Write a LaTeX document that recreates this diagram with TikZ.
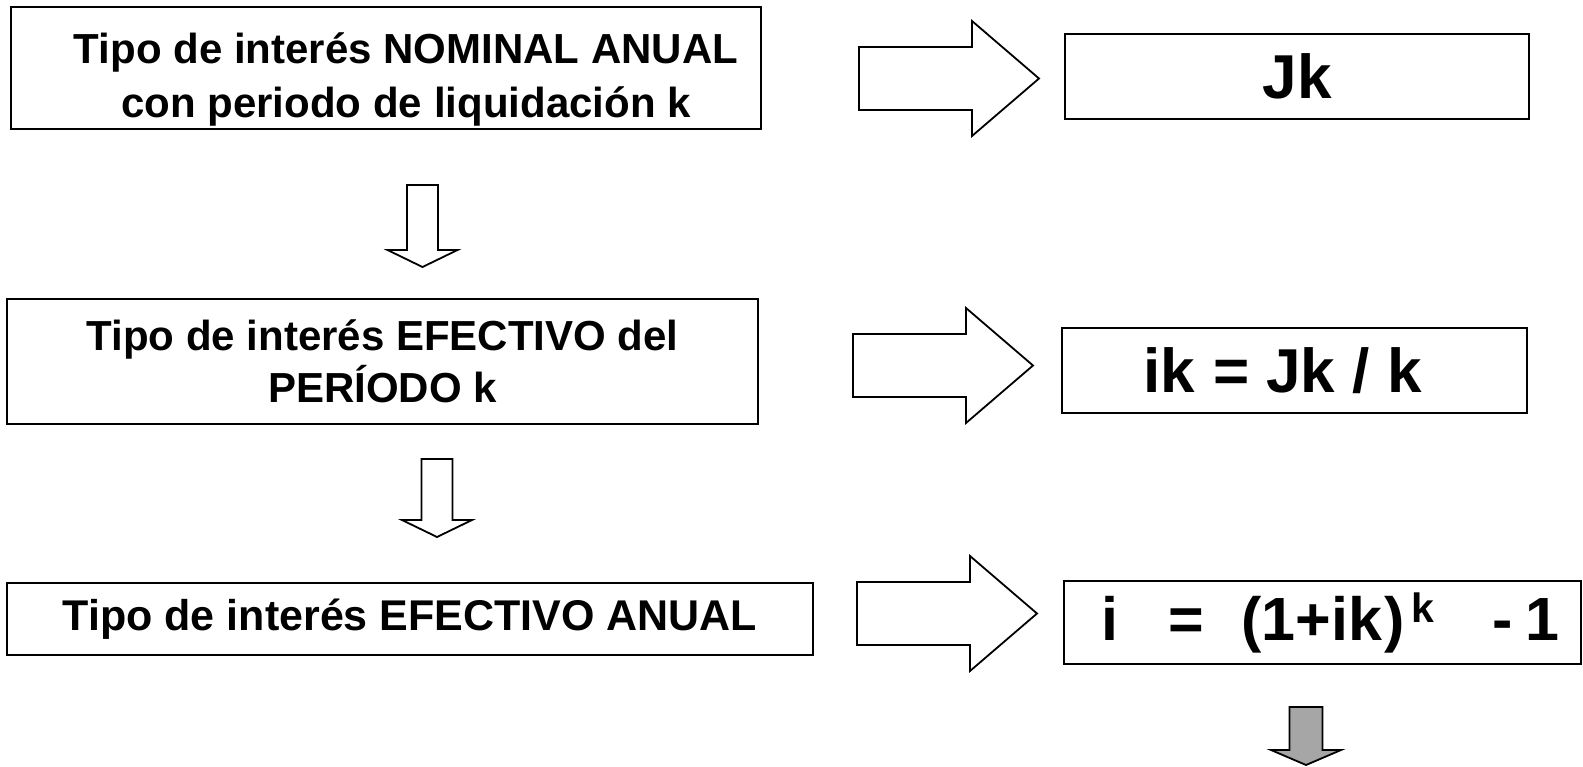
\documentclass[tikz,border=0pt]{standalone}
\usepackage{fontspec}
\setmainfont{Liberation Sans}
\definecolor{arrowgray}{RGB}{166,166,166}

\begin{document}
\begin{tikzpicture}[x=0.5pt, y=-0.5pt,
		box/.style={draw, line width=1pt, inner sep=0pt, align=center, font=\bfseries\fontsize{21}{27}\selectfont},
		arr/.style={draw, line width=0.9pt, line join=miter, fill=white}]
		\useasboundingbox (0,0) rectangle (1583,766);

		\node[box, minimum width=375pt, minimum height=61pt] (nominal) at (386,68) {\rule{0pt}{27pt}\hspace*{20pt}Tipo de interés NOMINAL ANUAL\\\hspace*{20pt}con periodo de liquidación k};
		\node[box, minimum width=232pt, minimum height=42.5pt, font=\bfseries\fontsize{31}{32}\selectfont] (jk) at (1297,76.5) {Jk};
		\node[box, minimum width=375.5pt, minimum height=62.5pt, font=\bfseries\fontsize{21}{26}\selectfont] (periodo) at (382.5,361.5) {Tipo de interés EFECTIVO del\\PERÍODO k};
		\node[box, minimum width=232.5pt, minimum height=42.5pt, font=\bfseries\fontsize{31}{32}\selectfont] (ik) at (1294.5,370.5) {ik\hspace{9pt}= Jk / k\hspace{12pt}};
		\node[box, minimum width=403pt, minimum height=36pt, font=\bfseries\fontsize{21.5}{27}\selectfont] (anual) at (410,619) {Tipo de interés EFECTIVO ANUAL};
		\node[box, minimum width=258.5pt, minimum height=41.5pt, font=\bfseries\fontsize{30.5}{32}\selectfont] (formula) at (1322.5,622.5) {\hspace*{8pt}i\hspace{25pt}=\hspace{18.5pt}(1+ik\hspace{1.5pt})\hspace{3pt}\raisebox{9pt}{\fontsize{20.5}{22}\selectfont k}\hspace{29pt}-\hspace{6.5pt}1};

		\foreach \x/\y in {859/78.5, 853/365.5, 857/613.5}
			\draw[arr, shift={(\x,\y)}] (0,-31.5) -- (113,-31.5) -- (113,-57.5) -- (180,0) -- (113,57.5) -- (113,31.5) -- (0,31.5) -- cycle;

		\foreach \x/\y/\s in {422.5/185/65, 437/459/61}
			\draw[arr, shift={(\x,\y)}] (-15.5,0) -- (-15.5,\s) -- (-35,\s) -- (0,\s+17) -- (35,\s) -- (15.5,\s) -- (15.5,0) -- cycle;

		\draw[arr, fill=arrowgray, shift={(1306,707)}] (-16.5,0) -- (-16.5,43) -- (-35,43) -- (0,58) -- (35,43) -- (16.5,43) -- (16.5,0) -- cycle;
	\end{tikzpicture}
\end{document}
